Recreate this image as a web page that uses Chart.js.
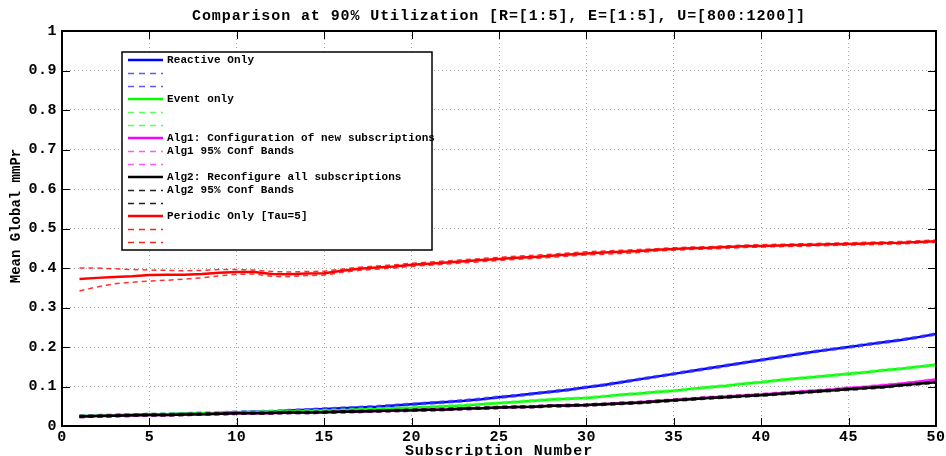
<!DOCTYPE html>
<html lang="en">
<head>
<meta charset="UTF-8">
<title>Comparison at 90% Utilization</title>
<style>
  html, body { margin: 0; padding: 0; background: #fff; }
  #wrap { width: 946px; height: 456px; }
</style>
</head>
<body>
<div id="wrap"><canvas id="mmprChart" width="946" height="456"></canvas></div>
<script src="https://cdn.jsdelivr.net/npm/chart.js"></script>
<script>
// x values: subscription number
const subs = [1, 2, 3, 4, 5, 6, 7, 8, 9, 10, 11, 12, 13, 14, 15, 16, 17, 18, 19, 20,
  21, 22, 23, 24, 25, 26, 27, 28, 29, 30, 31, 32, 33, 34, 35, 36, 37, 38, 39, 40,
  41, 42, 43, 44, 45, 46, 47, 48, 49, 50];

const xTicks = [0, 5, 10, 15, 20, 25, 30, 35, 40, 45, 50];
const yTicks = [0, 0.1, 0.2, 0.3, 0.4, 0.5, 0.6, 0.7, 0.8, 0.9, 1];

const reactive = [0.025, 0.026, 0.027, 0.028, 0.029, 0.030, 0.031, 0.032, 0.033, 0.035,
  0.036, 0.037, 0.039, 0.041, 0.043, 0.045, 0.047, 0.049, 0.052, 0.055,
  0.058, 0.061, 0.064, 0.068, 0.073, 0.077, 0.082, 0.087, 0.092, 0.098,
  0.104, 0.111, 0.118, 0.125, 0.132, 0.139, 0.146, 0.153, 0.160, 0.167,
  0.174, 0.181, 0.188, 0.194, 0.200, 0.206, 0.212, 0.218, 0.225, 0.233];

const eventOnly = [0.025, 0.026, 0.027, 0.028, 0.029, 0.030, 0.031, 0.032, 0.033, 0.034,
  0.035, 0.036, 0.037, 0.038, 0.039, 0.040, 0.042, 0.043, 0.045, 0.046,
  0.048, 0.050, 0.052, 0.055, 0.058, 0.061, 0.064, 0.067, 0.069, 0.071,
  0.075, 0.079, 0.082, 0.086, 0.089, 0.094, 0.098, 0.102, 0.107, 0.111,
  0.116, 0.120, 0.124, 0.128, 0.132, 0.136, 0.141, 0.145, 0.150, 0.155];

const alg1 = [0.024, 0.025, 0.026, 0.027, 0.028, 0.028, 0.029, 0.030, 0.031, 0.032,
  0.032, 0.033, 0.034, 0.034, 0.035, 0.036, 0.037, 0.038, 0.039, 0.040,
  0.041, 0.042, 0.044, 0.045, 0.047, 0.048, 0.049, 0.051, 0.052, 0.053,
  0.055, 0.058, 0.060, 0.063, 0.066, 0.069, 0.072, 0.075, 0.077, 0.080,
  0.083, 0.086, 0.089, 0.092, 0.096, 0.099, 0.103, 0.107, 0.112, 0.118];

const alg2 = [0.024, 0.025, 0.026, 0.027, 0.028, 0.028, 0.029, 0.030, 0.031, 0.032,
  0.032, 0.033, 0.034, 0.034, 0.035, 0.036, 0.037, 0.038, 0.039, 0.040,
  0.041, 0.042, 0.044, 0.045, 0.047, 0.048, 0.049, 0.051, 0.052, 0.053,
  0.055, 0.057, 0.059, 0.062, 0.065, 0.068, 0.071, 0.073, 0.076, 0.078,
  0.081, 0.084, 0.087, 0.090, 0.093, 0.096, 0.099, 0.103, 0.107, 0.111];

const periodic = [0.372, 0.375, 0.377, 0.379, 0.382, 0.383, 0.383, 0.385, 0.388, 0.390,
  0.390, 0.385, 0.384, 0.386, 0.387, 0.393, 0.398, 0.401, 0.404, 0.408,
  0.411, 0.414, 0.417, 0.420, 0.423, 0.426, 0.428, 0.431, 0.434, 0.437,
  0.439, 0.441, 0.443, 0.446, 0.448, 0.450, 0.451, 0.453, 0.455, 0.456,
  0.457, 0.458, 0.459, 0.460, 0.461, 0.462, 0.463, 0.464, 0.466, 0.468];

const periodicHi = [0.400, 0.400, 0.398, 0.396, 0.395, 0.394, 0.393, 0.394, 0.396, 0.396,
  0.395, 0.391, 0.390, 0.391, 0.392, 0.397, 0.402, 0.405, 0.408, 0.412,
  0.415, 0.418, 0.421, 0.424, 0.427, 0.430, 0.432, 0.435, 0.438, 0.441,
  0.443, 0.445, 0.447, 0.449, 0.451, 0.453, 0.454, 0.456, 0.458, 0.459,
  0.460, 0.461, 0.462, 0.463, 0.464, 0.465, 0.466, 0.467, 0.469, 0.471];

const periodicLo = [0.342, 0.352, 0.360, 0.364, 0.367, 0.369, 0.372, 0.375, 0.380, 0.384,
  0.385, 0.379, 0.378, 0.381, 0.382, 0.389, 0.394, 0.397, 0.400, 0.404,
  0.407, 0.410, 0.413, 0.416, 0.419, 0.422, 0.424, 0.427, 0.430, 0.433,
  0.435, 0.437, 0.439, 0.443, 0.445, 0.447, 0.448, 0.450, 0.452, 0.453,
  0.454, 0.455, 0.456, 0.457, 0.458, 0.459, 0.460, 0.461, 0.463, 0.465];

const FONT = '"Liberation Mono", "Courier New", monospace';

function pts(vals) {
  return vals.map((v, i) => ({ x: subs[i], y: v }));
}

// solid mean line
function mean(label, vals, color) {
  return { label: label, data: pts(vals), borderColor: color, legendColor: color,
    borderWidth: 2.5, solid: true };
}
// dashed confidence band (tight bands sit on the mean line)
function band(label, vals, color, legendColor, width) {
  return { label: label, data: pts(vals), borderColor: color, legendColor: legendColor,
    borderWidth: width, borderDash: [5, 4], solid: false };
}

const datasets = [
  mean('Reactive Only', reactive, '#0000ff'),
  band('', reactive, 'rgba(60,60,255,0.45)', '#5a5aff', 3.5),
  band('', reactive, 'rgba(60,60,255,0.45)', '#5a5aff', 3.5),
  mean('Event only', eventOnly, '#00ff00'),
  band('', eventOnly, 'rgba(60,255,60,0.45)', '#5aff5a', 3.5),
  band('', eventOnly, 'rgba(60,255,60,0.45)', '#5aff5a', 3.5),
  mean('Alg1: Configuration of new subscriptions', alg1, '#ff00ff'),
  band('Alg1 95% Conf Bands', alg1, 'rgba(255,60,255,0.45)', '#ff5aff', 3.5),
  band('', alg1, 'rgba(255,60,255,0.45)', '#ff5aff', 3.5),
  mean('Alg2: Reconfigure all subscriptions', alg2, '#000000'),
  band('Alg2 95% Conf Bands', alg2, 'rgba(0,0,0,0.45)', '#202020', 3.5),
  band('', alg2, 'rgba(0,0,0,0.45)', '#202020', 3.5),
  mean('Periodic Only [Tau=5]', periodic, '#ff0000'),
  band('', periodicHi, 'rgba(255,0,0,0.8)', '#ff2020', 1.5),
  band('', periodicLo, 'rgba(255,0,0,0.8)', '#ff2020', 1.5)
];
// later series drawn on top, like the original plot
datasets.forEach((d, i) => { d.order = 100 - i; });

const matlabLook = {
  id: 'matlabLook',
  beforeDraw(chart) {
    const ctx = chart.ctx;
    ctx.save();
    ctx.fillStyle = '#fff';
    ctx.fillRect(0, 0, chart.width, chart.height);
    ctx.restore();
    ctx.letterSpacing = '0.5px';
  },
  afterDatasetsDraw(chart) {
    const ctx = chart.ctx;
    const a = chart.chartArea;
    const xs = chart.scales.x, ys = chart.scales.y;
    ctx.save();
    ctx.letterSpacing = '0px';
    // inward ticks on all four sides
    ctx.strokeStyle = '#000';
    ctx.lineWidth = 1;
    ctx.beginPath();
    xTicks.forEach(v => {
      const px = Math.round(xs.getPixelForValue(v)) + 0.5;
      ctx.moveTo(px, a.bottom); ctx.lineTo(px, a.bottom - 8);
      ctx.moveTo(px, a.top); ctx.lineTo(px, a.top + 8);
    });
    yTicks.forEach(v => {
      const py = Math.round(ys.getPixelForValue(v)) + 0.5;
      ctx.moveTo(a.left, py); ctx.lineTo(a.left + 8, py);
      ctx.moveTo(a.right, py); ctx.lineTo(a.right - 8, py);
    });
    ctx.stroke();
    // frame
    ctx.lineWidth = 2;
    ctx.strokeRect(a.left, a.top, a.right - a.left, a.bottom - a.top);

    // legend box
    const bx = a.left + 60, by = a.top + 21, bw = 310, bh = 198;
    ctx.fillStyle = '#fff';
    ctx.fillRect(bx, by, bw, bh);
    ctx.lineWidth = 1.5;
    ctx.strokeStyle = '#000';
    ctx.strokeRect(bx, by, bw, bh);
    ctx.font = 'bold 11px ' + FONT;
    ctx.textBaseline = 'middle';
    ctx.textAlign = 'left';
    ctx.letterSpacing = '0.1px';
    chart.data.datasets.forEach((d, i) => {
      const ry = by + 8 + i * 13;
      ctx.beginPath();
      ctx.strokeStyle = d.legendColor;
      if (d.solid) { ctx.lineWidth = 2.5; ctx.setLineDash([]); }
      else { ctx.lineWidth = 1.3; ctx.setLineDash([6, 5]); }
      const ly = d.solid ? ry : Math.round(ry) + 0.5;
      ctx.moveTo(bx + 6, ly);
      ctx.lineTo(bx + 41, ly);
      ctx.stroke();
      ctx.setLineDash([]);
      if (d.label) {
        ctx.fillStyle = '#000';
        ctx.fillText(d.label, bx + 45, ry + 0.5);
      }
    });
    ctx.restore();
  },
  afterDraw(chart) {
    const ctx = chart.ctx;
    const a = chart.chartArea;
    ctx.save();
    ctx.fillStyle = '#000';
    ctx.textAlign = 'center';
    // title
    ctx.font = 'bold 15px ' + FONT;
    ctx.letterSpacing = '0.9px';
    ctx.textBaseline = 'alphabetic';
    ctx.fillText('Comparison at 90% Utilization [R=[1:5], E=[1:5], U=[800:1200]]', (a.left + a.right) / 2, 19.5);
    // x title
    ctx.letterSpacing = '0.9px';
    ctx.textBaseline = 'middle';
    ctx.fillText('Subscription Number', (a.left + a.right) / 2, 451);
    // y title
    ctx.font = 'bold 14px ' + FONT;
    ctx.letterSpacing = '0px';
    ctx.translate(16, 216);
    ctx.rotate(-Math.PI / 2);
    ctx.fillText('Mean Global mmPr', 0, 0);
    ctx.restore();
  }
};

const tickFont = { family: FONT, size: 15, weight: 'bold' };

new Chart(document.getElementById('mmprChart').getContext('2d'), {
  type: 'line',
  data: { datasets: datasets },
  options: {
    responsive: false,
    animation: false,
    layout: { padding: { top: 31, right: 10, bottom: 0, left: 0 } },
    elements: { point: { radius: 0 }, line: { tension: 0, fill: false } },
    plugins: { legend: { display: false }, tooltip: { enabled: false }, title: { display: false } },
    scales: {
      x: {
        type: 'linear', min: 0, max: 50,
        afterBuildTicks: s => { s.ticks = xTicks.map(v => ({ value: v })); },
        afterFit: s => { s.height = 30; s.paddingLeft = 0; s.paddingRight = 0; },
        grid: { color: '#a8a8a8', lineWidth: 1, drawTicks: false },
        border: { display: false, dash: [1, 3] },
        ticks: { font: tickFont, color: '#000', padding: 2, maxRotation: 0, autoSkip: false,
          callback: v => String(v) }
      },
      y: {
        type: 'linear', min: 0, max: 1,
        afterBuildTicks: s => { s.ticks = yTicks.map(v => ({ value: v })); },
        afterFit: s => { s.width = 62; s.paddingTop = 0; s.paddingBottom = 0; },
        grid: { color: '#a8a8a8', lineWidth: 1, drawTicks: false },
        border: { display: false, dash: [1, 3] },
        ticks: { font: tickFont, color: '#000', padding: 5, autoSkip: false,
          callback: v => String(v) }
      }
    }
  },
  plugins: [matlabLook]
});
</script>
</body>
</html>
